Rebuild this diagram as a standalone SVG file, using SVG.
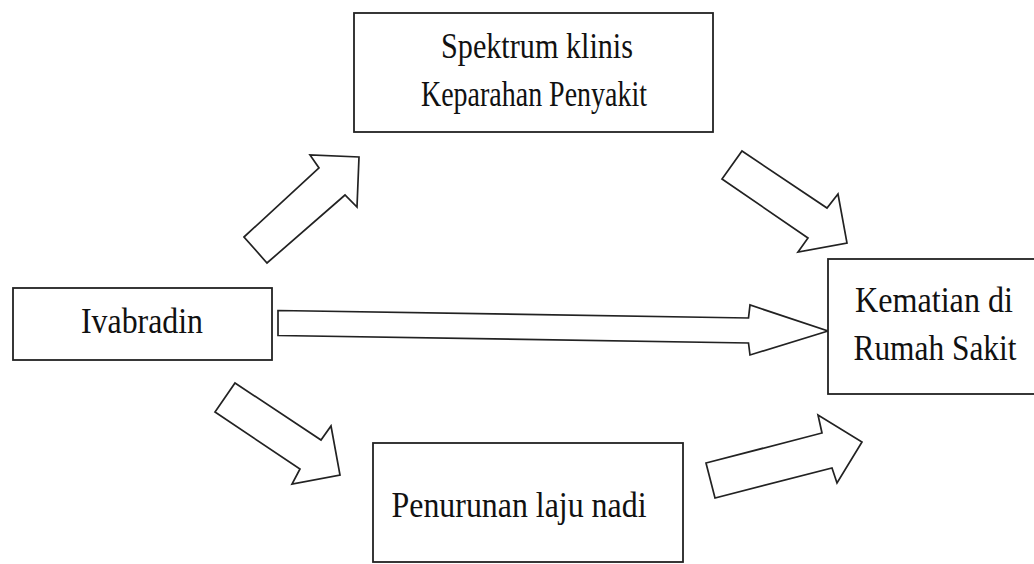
<svg xmlns="http://www.w3.org/2000/svg" width="1034" height="564" viewBox="0 0 1034 564">
  <style>
    .box { fill: #ffffff; stroke: #222222; stroke-width: 1.8; }
    .arrow { fill: #ffffff; stroke: #222222; stroke-width: 1.7; stroke-linejoin: miter; }
    .label { font-family: "Liberation Serif", "Times New Roman", serif; font-size: 35px; fill: #111111; text-anchor: middle; }
  </style>
  <rect x="0" y="0" width="1034" height="564" fill="#ffffff"/>

  <!-- Block arrows between the nodes -->
  <g id="connectors">
    <polygon class="arrow" points="244,237 319,168 310,155 359,157 357,207 345,195 267,263"/>
    <polygon class="arrow" points="742,151 827,208 838,194 847,243 798,252 808,238 722,179"/>
    <polygon class="arrow" points="278,310.5 748.5,318 750,305 828,331 750,355 748.5,343 278,335.5"/>
    <polygon class="arrow" points="235,383 321,440 331,426 340,475 292,484 300,469 215,412"/>
    <polygon class="arrow" points="706,463 822,433 818,415 862,442 837,483 832,468 715,498"/>
  </g>

  <g id="node-spektrum">
    <rect class="box" x="354" y="13" width="359" height="119"/>
    <text class="label" x="537" y="58" textLength="192" lengthAdjust="spacingAndGlyphs">Spektrum klinis</text>
    <text class="label" x="534" y="106" textLength="226" lengthAdjust="spacingAndGlyphs">Keparahan Penyakit</text>
  </g>

  <g id="node-ivabradin">
    <rect class="box" x="13" y="288" width="259" height="72"/>
    <text class="label" x="142" y="333" textLength="122" lengthAdjust="spacingAndGlyphs">Ivabradin</text>
  </g>

  <g id="node-kematian">
    <rect class="box" x="828" y="259" width="220" height="135"/>
    <text class="label" x="934" y="312" textLength="158" lengthAdjust="spacingAndGlyphs">Kematian di</text>
    <text class="label" x="935" y="360" textLength="163" lengthAdjust="spacingAndGlyphs">Rumah Sakit</text>
  </g>

  <g id="node-penurunan">
    <rect class="box" x="373" y="443" width="310" height="119"/>
    <text class="label" x="519" y="517" textLength="255" lengthAdjust="spacingAndGlyphs">Penurunan laju nadi</text>
  </g>
</svg>
